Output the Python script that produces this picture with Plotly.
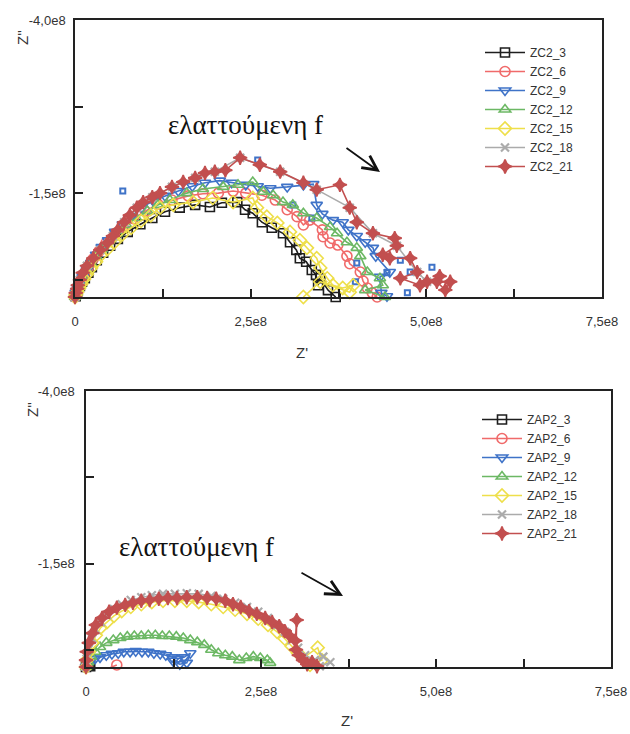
import plotly.graph_objects as go

# ---------------- data (impedance in units of 1e8 ohm) ----------------
# Top panel: ZC2 series
zc2_3_x = [0.01,0.03,0.04,0.07,0.10,0.14,0.19,0.24,0.31,0.40,0.50,0.61,0.75,0.93,1.10,1.28,1.49,1.71,1.92,2.09,2.31,2.42,2.53,2.66,2.80,2.96,3.06,3.15,3.20,3.29,3.37,3.43,3.46,3.49,3.60,3.71]
zc2_3_y = [-0.01,-0.06,-0.10,-0.16,-0.22,-0.27,-0.35,-0.43,-0.53,-0.64,-0.74,-0.84,-0.94,-1.05,-1.14,-1.23,-1.29,-1.33,-1.30,-1.36,-1.37,-1.26,-1.21,-1.08,-1.00,-0.92,-0.79,-0.68,-0.56,-0.51,-0.39,-0.32,-0.17,-0.27,-0.10,0.0]

zc2_6_x = [0,0.01,0.03,0.06,0.09,0.13,0.19,0.26,0.34,0.44,0.56,0.68,0.83,1.00,1.18,1.38,1.61,1.82,2.04,2.25,2.43,2.66,2.85,3.02,3.16,3.25,3.34,3.52,3.53,3.63,3.74,3.87,3.91,4.06,4.10,4.16,4.23,4.30]
zc2_6_y = [0,-0.04,-0.10,-0.17,-0.25,-0.33,-0.43,-0.55,-0.66,-0.78,-0.90,-1.01,-1.13,-1.24,-1.34,-1.40,-1.46,-1.49,-1.50,-1.53,-1.50,-1.47,-1.40,-1.26,-1.16,-1.04,-1.11,-0.97,-0.87,-0.78,-0.75,-0.59,-0.48,-0.36,-0.23,-0.13,-0.06,0]

zc2_9_x = [0,0.01,0.04,0.07,0.11,0.17,0.23,0.30,0.38,0.47,0.57,0.68,0.81,0.95,1.11,1.28,1.47,1.67,1.85,2.06,2.23,2.43,2.60,2.78,3.02,3.25,3.39,3.44,3.52,3.67,3.81,3.89,4.01,4.13,4.24,4.28,4.48,4.34,4.36,4.44]
zc2_9_y = [0,-0.06,-0.13,-0.20,-0.29,-0.39,-0.49,-0.61,-0.72,-0.82,-0.94,-1.05,-1.17,-1.29,-1.39,-1.46,-1.53,-1.60,-1.65,-1.68,-1.65,-1.62,-1.60,-1.57,-1.59,-1.62,-1.63,-1.33,-1.20,-1.11,-1.08,-0.97,-0.88,-0.79,-0.71,-0.59,-0.36,-0.29,-0.06,-0.01]
zc2_9_extra_x = [0.68,2.60,3.10,3.37,4.01,3.99,4.63,4.77,5.08,4.44,4.73]
zc2_9_extra_y = [-1.53,-1.98,-1.33,-1.14,-0.49,-0.22,-0.53,-0.36,-0.43,-0.35,-0.06]

zc2_12_x = [0,0.01,0.04,0.07,0.11,0.17,0.23,0.30,0.38,0.48,0.60,0.73,0.87,1.03,1.18,1.35,1.59,1.82,2.11,2.32,2.53,2.68,2.82,2.96,3.10,3.25,3.44,3.63,3.73,3.87,4.01,4.06,4.16,4.34,4.38,4.13,4.41]
zc2_12_y = [0,-0.04,-0.12,-0.19,-0.27,-0.38,-0.48,-0.59,-0.69,-0.81,-0.92,-1.04,-1.14,-1.24,-1.33,-1.40,-1.50,-1.56,-1.59,-1.62,-1.66,-1.52,-1.47,-1.37,-1.33,-1.21,-1.14,-1.01,-0.92,-0.79,-0.71,-0.59,-0.36,-0.27,-0.17,-0.10,0]

zc2_15_x = [0,0.01,0.03,0.06,0.09,0.13,0.17,0.23,0.30,0.37,0.46,0.56,0.67,0.80,0.94,1.08,1.21,1.40,1.68,1.96,2.25,2.53,2.59,2.73,2.88,3.06,3.20,3.30,3.44,3.49,3.59,3.67,3.81,3.96,3.91,3.49,3.25]
zc2_15_y = [0,-0.03,-0.07,-0.13,-0.19,-0.26,-0.33,-0.42,-0.51,-0.61,-0.69,-0.79,-0.90,-1.00,-1.10,-1.18,-1.29,-1.33,-1.37,-1.43,-1.37,-1.43,-1.29,-1.16,-1.07,-0.94,-0.82,-0.71,-0.56,-0.42,-0.27,-0.17,-0.13,-0.17,-0.07,-0.22,0]

zc2_18_x = [0,0.03,0.07,0.17,0.36,0.54,0.70,0.88,1.10,1.38,1.71,1.99,2.35,2.92,3.44,3.91,4.24,4.58,4.87,5.01]
zc2_18_y = [0,-0.12,-0.25,-0.45,-0.68,-0.88,-1.08,-1.29,-1.44,-1.59,-1.72,-1.81,-2.01,-1.81,-1.55,-1.29,-0.92,-0.74,-0.36,-0.22]

zc2_21_x = [0,0.01,0.03,0.04,0.07,0.11,0.17,0.26,0.36,0.46,0.54,0.61,0.70,0.78,0.88,0.97,1.10,1.21,1.38,1.54,1.71,1.85,1.99,2.14,2.35,2.63,2.92,3.25,3.44,3.77,3.91,4.01,4.24,4.55,4.58,4.38,4.48,4.77,4.87,4.63,4.91,5.01,5.19,5.15,5.27,5.34]
zc2_21_y = [0,-0.06,-0.12,-0.17,-0.25,-0.35,-0.45,-0.56,-0.68,-0.78,-0.88,-0.97,-1.08,-1.18,-1.29,-1.37,-1.44,-1.50,-1.59,-1.66,-1.72,-1.79,-1.81,-1.83,-2.01,-1.91,-1.81,-1.65,-1.55,-1.62,-1.29,-1.08,-0.92,-0.85,-0.74,-0.61,-0.56,-0.56,-0.36,-0.27,-0.17,-0.22,-0.30,-0.22,-0.10,-0.22]

# Bottom panel: ZAP2 series
zap2_3_x = [0,0.02,0.04,0.06]
zap2_3_y = [0,-0.03,-0.02,-0.01]

zap2_6_x = [0,0.05,0.12,0.20,0.32,0.44]
zap2_6_y = [0,0.05,0.08,0.06,0.02,-0.03]

zap2_9_x = [0,0.03,0.07,0.13,0.2,0.29,0.37,0.46,0.54,0.63,0.71,0.8,0.89,0.97,1.06,1.14,1.23,1.31,1.4,1.49,1.44,1.34,1.24]
zap2_9_y = [0,-0.04,-0.09,-0.12,-0.14,-0.17,-0.19,-0.2,-0.22,-0.22,-0.23,-0.22,-0.22,-0.2,-0.19,-0.17,-0.14,-0.12,-0.14,-0.2,-0.06,-0.04,-0.09]

zap2_12_x = [0,0.03,0.07,0.13,0.2,0.29,0.39,0.49,0.59,0.69,0.79,0.89,0.99,1.09,1.19,1.29,1.39,1.49,1.59,1.69,1.79,1.89,1.99,2.09,2.19,2.29,2.39,2.49,2.59,2.63]
zap2_12_y = [0,-0.07,-0.15,-0.22,-0.29,-0.35,-0.39,-0.42,-0.44,-0.45,-0.45,-0.46,-0.46,-0.45,-0.45,-0.44,-0.42,-0.39,-0.36,-0.32,-0.25,-0.2,-0.17,-0.15,-0.1,-0.13,-0.15,-0.13,-0.1,-0.06]

zap2_15_x = [0,0.01,0.04,0.09,0.14,0.21,0.3,0.4,0.51,0.64,0.79,0.94,1.1,1.27,1.44,1.61,1.79,1.96,2.13,2.3,2.46,2.6,2.73,2.84,2.94,3.03,3.1,3.31,3.37,3.2]
zap2_15_y = [0,-0.1,-0.22,-0.35,-0.46,-0.57,-0.65,-0.74,-0.81,-0.87,-0.91,-0.94,-0.96,-0.96,-0.96,-0.94,-0.91,-0.87,-0.83,-0.77,-0.7,-0.61,-0.51,-0.41,-0.3,-0.2,-0.13,-0.28,-0.1,-0.03]

zap2_18_x = [0,0.01,0.04,0.09,0.14,0.21,0.3,0.4,0.51,0.64,0.79,0.94,1.1,1.27,1.44,1.61,1.79,1.96,2.13,2.3,2.46,2.6,2.73,2.84,2.94,3.03,3.13,3.27,3.39,3.49,3.34]
zap2_18_y = [0,-0.12,-0.26,-0.41,-0.54,-0.65,-0.75,-0.84,-0.91,-0.97,-1.01,-1.04,-1.06,-1.06,-1.07,-1.06,-1.03,-0.99,-0.93,-0.87,-0.8,-0.71,-0.61,-0.51,-0.39,-0.28,-0.17,-0.1,-0.15,-0.07,-0.01]

zap2_21_x = [0,0,0.01,0.04,0.09,0.14,0.23,0.33,0.44,0.56,0.67,0.79,0.91,1.04,1.17,1.3,1.44,1.59,1.73,1.86,1.99,2.1,2.21,2.33,2.44,2.56,2.66,2.76,2.84,2.91,2.99,3.01,3.0,3.04,3.1,3.16,3.23,3.3]
zap2_21_y = [0,-0.1,-0.22,-0.35,-0.49,-0.61,-0.71,-0.8,-0.86,-0.9,-0.93,-0.96,-0.97,-0.99,-1.0,-1.0,-1.01,-1.01,-1.0,-0.99,-0.96,-0.91,-0.87,-0.81,-0.77,-0.71,-0.65,-0.59,-0.52,-0.45,-0.38,-0.68,-0.25,-0.17,-0.1,-0.04,-0.07,-0.01]

# axis ticks (units of 1e8)
x_tickvals = [0, 1.25, 2.5, 3.75, 5.0, 6.25, 7.5]
x_ticktext = ["0", "", "2,5e8", "", "5,0e8", "", "7,5e8"]
y_tickvals = [-4.0, -2.75, -1.5, -0.25]
y_ticktext = ["-4,0e8", "", "-1,5e8", ""]

# ---------------- styles ----------------
BLACK = "#1e1e1e"
SALMON = "#F06A6A"
BLUE = "#3F73C8"
GREEN = "#6CB864"
YELLOW = "#EEDF4A"
GRAY = "#ABABAB"
DARKRED = "#C24F4F"

styles = [
    (BLACK, "square-open", 9),
    (SALMON, "circle-open", 10),
    (BLUE, "triangle-down-open", 10),
    (GREEN, "triangle-up-open", 10),
    (YELLOW, "diamond-open", 10),
    (GRAY, "x-thin-open", 8),
    (DARKRED, "star-diamond", 10),
]

top_series = [
    ("ZC2_3", zc2_3_x, zc2_3_y),
    ("ZC2_6", zc2_6_x, zc2_6_y),
    ("ZC2_9", zc2_9_x, zc2_9_y),
    ("ZC2_12", zc2_12_x, zc2_12_y),
    ("ZC2_15", zc2_15_x, zc2_15_y),
    ("ZC2_18", zc2_18_x, zc2_18_y),
    ("ZC2_21", zc2_21_x, zc2_21_y),
]
bottom_series = [
    ("ZAP2_3", zap2_3_x, zap2_3_y),
    ("ZAP2_6", zap2_6_x, zap2_6_y),
    ("ZAP2_9", zap2_9_x, zap2_9_y),
    ("ZAP2_12", zap2_12_x, zap2_12_y),
    ("ZAP2_15", zap2_15_x, zap2_15_y),
    ("ZAP2_18", zap2_18_x, zap2_18_y),
    ("ZAP2_21", zap2_21_x, zap2_21_y),
]

fig = go.Figure()


def add(name, xs, ys, style, xa, ya, leg, showlegend=True):
    color, symbol, size = style
    lw = 2.2 if "x-thin" in symbol else 1.6
    fig.add_trace(go.Scatter(
        x=xs, y=ys, name=name, mode="lines+markers",
        line=dict(color=color, width=1.6),
        marker=dict(symbol=symbol, size=size, color=color,
                    line=dict(color=color, width=lw)),
        xaxis=xa, yaxis=ya, legend=leg, showlegend=showlegend,
        cliponaxis=False,
    ))


for i, (name, xs, ys) in enumerate(top_series):
    add(name, xs, ys, styles[i], "x", "y", "legend")
    if name == "ZC2_9":
        fig.add_trace(go.Scatter(
            x=zc2_9_extra_x, y=zc2_9_extra_y, mode="markers", name="ZC2_9",
            marker=dict(symbol="square-open", size=5, color=BLUE, line=dict(color=BLUE, width=2)),
            xaxis="x", yaxis="y", showlegend=False, cliponaxis=False))

for i, (name, xs, ys) in enumerate(bottom_series):
    add(name, xs, ys, styles[i], "x2", "y2", "legend2")

W, H = 630, 734
axis_common = dict(
    showline=True, linecolor="#222", linewidth=1.5, mirror=True,
    ticks="inside", ticklen=8, tickwidth=1.5, tickcolor="#222",
    showgrid=False, zeroline=False, automargin=False,
    tickfont=dict(family="Liberation Sans, Arial, sans-serif", size=13, color="#333"),
)
leg_font = dict(family="Liberation Sans, Arial, sans-serif", size=12, color="#333")

fig.update_layout(
    width=W, height=H,
    margin=dict(l=0, r=0, t=0, b=0, autoexpand=False),
    paper_bgcolor="white", plot_bgcolor="white",
    xaxis=dict(domain=[75 / W, 602 / W], range=[0, 7.5], anchor="y",
               tickvals=x_tickvals, ticktext=x_ticktext, ticklabelstandoff=12, **axis_common),
    yaxis=dict(domain=[1 - 297 / H, 1 - 20 / H], range=[0, -4], anchor="x",
               tickvals=y_tickvals, ticktext=y_ticktext, ticklabelstandoff=5, **axis_common),
    xaxis2=dict(domain=[86 / W, 611 / W], range=[0, 7.5], anchor="y2",
                tickvals=x_tickvals, ticktext=x_ticktext, ticklabelstandoff=12, **axis_common),
    yaxis2=dict(domain=[1 - 667 / H, 1 - 391 / H], range=[0, -4], anchor="x2",
                tickvals=y_tickvals, ticktext=y_ticktext, ticklabelstandoff=7, **axis_common),
    legend=dict(x=480 / W, y=1 - 38 / H, xanchor="left", yanchor="top", itemwidth=40,
                bgcolor="rgba(0,0,0,0)", tracegroupgap=0, font=leg_font),
    legend2=dict(x=477 / W, y=1 - 405 / H, xanchor="left", yanchor="top", itemwidth=40,
                 bgcolor="rgba(0,0,0,0)", tracegroupgap=0, font=leg_font),
    showlegend=True,
)

ann_font = dict(family="Liberation Sans, Arial, sans-serif", size=15, color="#333")
greek_font = dict(family="Liberation Serif, Times New Roman, serif", size=27, color="#111")
annotations = [
    dict(text="Z''", x=23 / W, y=1 - 38 / H, textangle=-90, font=ann_font),
    dict(text="Z''", x=32 / W, y=1 - 410 / H, textangle=-90, font=ann_font),
    dict(text="Z'", x=302 / W, y=1 - 352 / H, font=ann_font),
    dict(text="Z'", x=347 / W, y=1 - 720 / H, font=ann_font),
    dict(text="ελαττούμενη f", x=245 / W, y=1 - 125 / H, font=greek_font),
    dict(text="ελαττούμενη f", x=196 / W, y=1 - 547 / H, font=greek_font),
]
for a in annotations:
    fig.add_annotation(xref="paper", yref="paper", showarrow=False,
                       xanchor="center", yanchor="middle", **a)

for head, tail in [((380, 172), (345, 147)), ((343, 596), (300, 572))]:
    fig.add_annotation(xref="paper", yref="paper", x=head[0] / W, y=1 - head[1] / H,
                       ax=tail[0] - head[0], ay=tail[1] - head[1], text="",
                       showarrow=True, arrowhead=5, arrowsize=1.6, arrowwidth=1.8,
                       arrowcolor="#111")

fig.write_html(
    "out.html",
    config={"displayModeBar": False},
    post_script="document.body.style.margin='0';document.body.style.overflow='hidden';",
)
